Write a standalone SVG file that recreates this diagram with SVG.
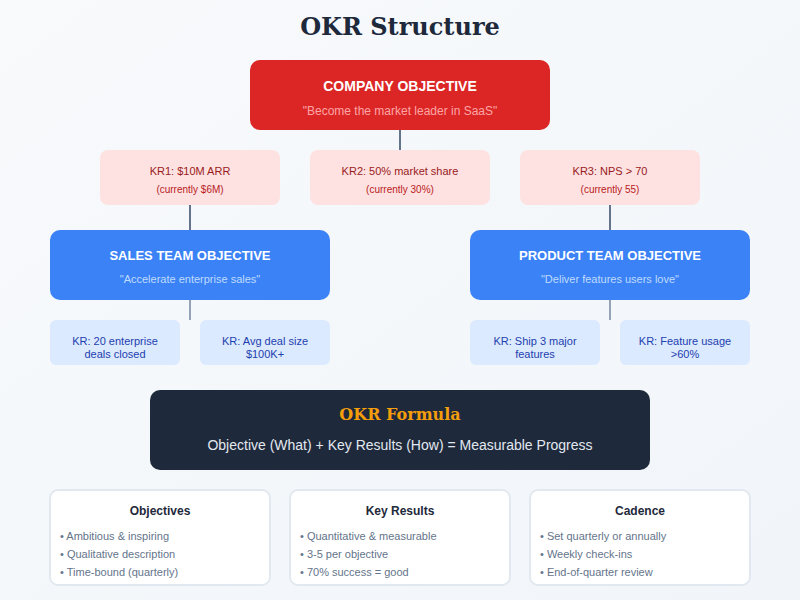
<svg xmlns="http://www.w3.org/2000/svg" width="800" height="600" viewBox="0 0 800 600">
<defs>
<linearGradient id="bg" x1="0" y1="0" x2="1" y2="1"><stop offset="0" stop-color="#f8fafc"/><stop offset="1" stop-color="#f1f5f9"/></linearGradient>
<style>
.sans{font-family:"Liberation Sans",Arial,sans-serif}
.serif{font-family:"DejaVu Serif",serif;font-weight:bold}
.kr{fill:#fee2e2}
.krt{font-family:"Liberation Sans",Arial,sans-serif;font-size:11px;fill:#991b1b;text-anchor:middle}
.krs{font-family:"Liberation Sans",Arial,sans-serif;font-size:10px;fill:#b91c1c;text-anchor:middle}
.team{fill:#3b82f6}
.tt{font-family:"Liberation Sans",Arial,sans-serif;font-size:13px;font-weight:bold;fill:#fff;text-anchor:middle}
.tq{font-family:"Liberation Sans",Arial,sans-serif;font-size:11px;fill:#bfdbfe;text-anchor:middle}
.sk{fill:#dbeafe}
.skt{font-family:"Liberation Sans",Arial,sans-serif;font-size:11px;fill:#1e40af;text-anchor:middle}
.card{fill:#fff;stroke:#e2e8f0;stroke-width:2}
.ct{font-family:"Liberation Sans",Arial,sans-serif;font-size:12px;font-weight:bold;fill:#1e293b;text-anchor:middle}
.cb{font-family:"Liberation Sans",Arial,sans-serif;font-size:11px;fill:#64748b}
.c1{stroke:#64748b;stroke-width:2}
.c2{stroke:#94a3b8;stroke-width:2}
</style>
</defs>
<rect width="800" height="600" fill="url(#bg)"/>
<text x="400" y="35" class="serif" font-size="24" fill="#1e293b" text-anchor="middle">OKR Structure</text>

<g id="connectors">
<line class="c1" x1="400" y1="130" x2="400" y2="150"/>
<line class="c1" x1="190" y1="205" x2="190" y2="230"/>
<line class="c1" x1="610" y1="205" x2="610" y2="230"/>
<line class="c2" x1="190" y1="300" x2="190" y2="320"/>
<line class="c2" x1="610" y1="300" x2="610" y2="320"/>
</g>

<g id="company">
<rect x="250" y="60" width="300" height="70" rx="10" fill="#dc2626"/>
<text x="400" y="91" class="sans" font-size="14" font-weight="bold" fill="#fff" text-anchor="middle">COMPANY OBJECTIVE</text>
<text x="400" y="115" class="sans" font-size="12" fill="#fca5a5" text-anchor="middle">"Become the market leader in SaaS"</text>
</g>

<g id="kr1">
<rect class="kr" x="100" y="150" width="180" height="55" rx="8"/>
<text class="krt" x="190" y="175">KR1: $10M ARR</text>
<text class="krs" x="190" y="193">(currently $6M)</text>
</g>
<g id="kr2">
<rect class="kr" x="310" y="150" width="180" height="55" rx="8"/>
<text class="krt" x="400" y="175">KR2: 50% market share</text>
<text class="krs" x="400" y="193">(currently 30%)</text>
</g>
<g id="kr3">
<rect class="kr" x="520" y="150" width="180" height="55" rx="8"/>
<text class="krt" x="610" y="175">KR3: NPS &gt; 70</text>
<text class="krs" x="610" y="193">(currently 55)</text>
</g>

<g id="sales">
<rect class="team" x="50" y="230" width="280" height="70" rx="10"/>
<text class="tt" x="190" y="260">SALES TEAM OBJECTIVE</text>
<text class="tq" x="190" y="283">"Accelerate enterprise sales"</text>
</g>
<g id="product">
<rect class="team" x="470" y="230" width="280" height="70" rx="10"/>
<text class="tt" x="610" y="260">PRODUCT TEAM OBJECTIVE</text>
<text class="tq" x="610" y="283">"Deliver features users love"</text>
</g>

<g id="skr1">
<rect class="sk" x="50" y="320" width="130" height="45" rx="6"/>
<text class="skt" x="115" y="345">KR: 20 enterprise</text>
<text class="skt" x="115" y="358">deals closed</text>
</g>
<g id="skr2">
<rect class="sk" x="200" y="320" width="130" height="45" rx="6"/>
<text class="skt" x="265" y="345">KR: Avg deal size</text>
<text class="skt" x="265" y="358">$100K+</text>
</g>
<g id="pkr1">
<rect class="sk" x="470" y="320" width="130" height="45" rx="6"/>
<text class="skt" x="535" y="345">KR: Ship 3 major</text>
<text class="skt" x="535" y="358">features</text>
</g>
<g id="pkr2">
<rect class="sk" x="620" y="320" width="130" height="45" rx="6"/>
<text class="skt" x="685" y="345">KR: Feature usage</text>
<text class="skt" x="685" y="358">&gt;60%</text>
</g>

<g id="formula">
<rect x="150" y="390" width="500" height="80" rx="10" fill="#1e293b"/>
<text x="400" y="420" class="serif" font-size="16" fill="#f59e0b" text-anchor="middle">OKR Formula</text>
<text x="400" y="450" class="sans" font-size="14" fill="#e2e8f0" text-anchor="middle">Objective (What) + Key Results (How) = Measurable Progress</text>
</g>

<g id="objectives">
<rect class="card" x="50" y="490" width="220" height="95" rx="8"/>
<text class="ct" x="160" y="515">Objectives</text>
<text class="cb" x="60" y="540">• Ambitious &amp; inspiring</text>
<text class="cb" x="60" y="558">• Qualitative description</text>
<text class="cb" x="60" y="576">• Time-bound (quarterly)</text>
</g>
<g id="keyresults">
<rect class="card" x="290" y="490" width="220" height="95" rx="8"/>
<text class="ct" x="400" y="515">Key Results</text>
<text class="cb" x="300" y="540">• Quantitative &amp; measurable</text>
<text class="cb" x="300" y="558">• 3-5 per objective</text>
<text class="cb" x="300" y="576">• 70% success = good</text>
</g>
<g id="cadence">
<rect class="card" x="530" y="490" width="220" height="95" rx="8"/>
<text class="ct" x="640" y="515">Cadence</text>
<text class="cb" x="540" y="540">• Set quarterly or annually</text>
<text class="cb" x="540" y="558">• Weekly check-ins</text>
<text class="cb" x="540" y="576">• End-of-quarter review</text>
</g>
</svg>
